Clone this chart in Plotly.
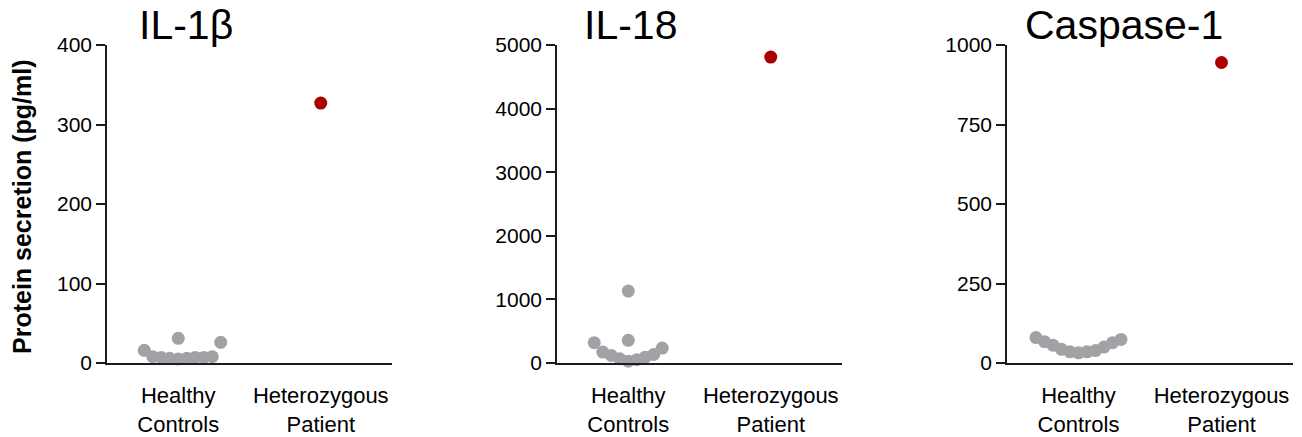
import plotly.graph_objects as go

# ---------------- data ----------------
panel_titles = ["IL-1β", "IL-18", "Caspase-1"]
categories = ["Healthy<br>Controls", "Heterozygous<br>Patient"]

il1b_controls = [5, 6, 6, 7, 7, 7, 8, 8, 16, 26, 31]
il1b_patient = [327]
il18_controls = [29, 51, 66, 92, 119, 134, 171, 234, 320, 356, 1131]
il18_patient = [4810]
casp1_controls = [32, 35, 35, 39, 43, 50, 56, 64, 67, 74, 80]
casp1_patient = [945]

y_max = [400, 5000, 1000]
y_ticks = [[0, 100, 200, 300, 400],
           [0, 1000, 2000, 3000, 4000, 5000],
           [0, 250, 500, 750, 1000]]

y_title = "Protein secretion (pg/ml)"

# ---------------- layout constants ----------------
W, H = 1302, 437
x_domains_px = [(107, 392), (557, 842), (1007, 1293)]
y_top_px, y_bot_px = 45, 363
plot_h_px = y_bot_px - y_top_px
FONT = "Arial, Liberation Sans, sans-serif"
GRAY = "#a2a2a6"
RED = "#aa0000"
AXIS_COL = "#1c1c1c"


def swarm_offsets(values, ymax, domain_px, slot_px=8.5, min_gap_px=19):
    """Prism-like column arrangement: ascending values, each point takes the
    slot nearest the centre (right first) where it does not sit on top of
    another point closer than min_gap_px vertically."""
    px_per_y = plot_h_px / ymax
    px_per_x = (domain_px[1] - domain_px[0]) / 2.0  # x range is 2 units
    order = sorted(range(len(values)), key=lambda i: values[i])
    slots = {}
    offs = [0.0] * len(values)
    for i in order:
        h = values[i] * px_per_y
        k_seq = [0]
        for j in range(1, 50):
            k_seq += [j, -j]
        for k in k_seq:
            if all(abs(h - hh) >= min_gap_px for hh in slots.get(k, [])):
                slots.setdefault(k, []).append(h)
                offs[i] = k * slot_px / px_per_x
                break
    return offs


controls = [il1b_controls, il18_controls, casp1_controls]
patients = [il1b_patient, il18_patient, casp1_patient]

fig = go.Figure()
for p in range(3):
    xa = "x" if p == 0 else f"x{p+1}"
    ya = "y" if p == 0 else f"y{p+1}"
    offs = swarm_offsets(controls[p], y_max[p], x_domains_px[p])
    fig.add_trace(go.Scatter(
        x=[0 + o for o in offs], y=controls[p], mode="markers",
        marker=dict(size=13, color=GRAY, line=dict(width=0)),
        xaxis=xa, yaxis=ya, cliponaxis=False, showlegend=False,
        hoverinfo="y"))
    fig.add_trace(go.Scatter(
        x=[1] * len(patients[p]), y=patients[p], mode="markers",
        marker=dict(size=13, color=RED, line=dict(width=0)),
        xaxis=xa, yaxis=ya, cliponaxis=False, showlegend=False,
        hoverinfo="y"))

layout = dict(
    template="none",
    width=W, height=H,
    margin=dict(l=0, r=0, t=0, b=0, pad=0, autoexpand=False),
    paper_bgcolor="white", plot_bgcolor="white",
    font=dict(family=FONT, color="black"),
    showlegend=False,
)
y_dom = [(H - y_bot_px) / H, (H - y_top_px) / H]
for p in range(3):
    sx = "" if p == 0 else str(p + 1)
    d0, d1 = x_domains_px[p]
    layout[f"xaxis{sx}"] = dict(
        domain=[d0 / W, d1 / W], anchor=f"y{sx}", range=[-0.5, 1.5],
        automargin=False,
        showline=True, linecolor=AXIS_COL, linewidth=1.6,
        showgrid=False, zeroline=False, ticks="",
        tickvals=[0, 1], ticktext=categories,
        tickfont=dict(size=22, family=FONT, color="black"),
        ticklabelstandoff=12, fixedrange=True)
    layout[f"yaxis{sx}"] = dict(
        domain=y_dom, anchor=f"x{sx}", range=[0, y_max[p]],
        automargin=False,
        showline=True, linecolor=AXIS_COL, linewidth=1.6,
        showgrid=False, zeroline=False,
        ticks="outside", ticklen=9, tickwidth=1.6, tickcolor=AXIS_COL,
        tickvals=y_ticks[p],
        tickfont=dict(size=21, family=FONT, color="black"),
        fixedrange=True)

fig.update_layout(**layout)

title_centers_px = [186, 630, 1124]
for p in range(3):
    fig.add_annotation(
        text=panel_titles[p], xref="paper", yref="paper",
        x=title_centers_px[p] / W, y=1 - 25 / H,
        xanchor="center", yanchor="middle", showarrow=False,
        font=dict(size=41, family=FONT, color="black"))

fig.add_annotation(
    text=f"<b>{y_title}</b>", xref="paper", yref="paper",
    x=22 / W, y=1 - 207 / H, xanchor="center", yanchor="middle",
    textangle=-90, showarrow=False,
    font=dict(size=25, family=FONT, color="black"))

fig.write_html(
    "out.html",
    config={"displayModeBar": False, "staticPlot": False},
    post_script="document.body.style.margin='0';document.body.style.overflow='hidden';")
